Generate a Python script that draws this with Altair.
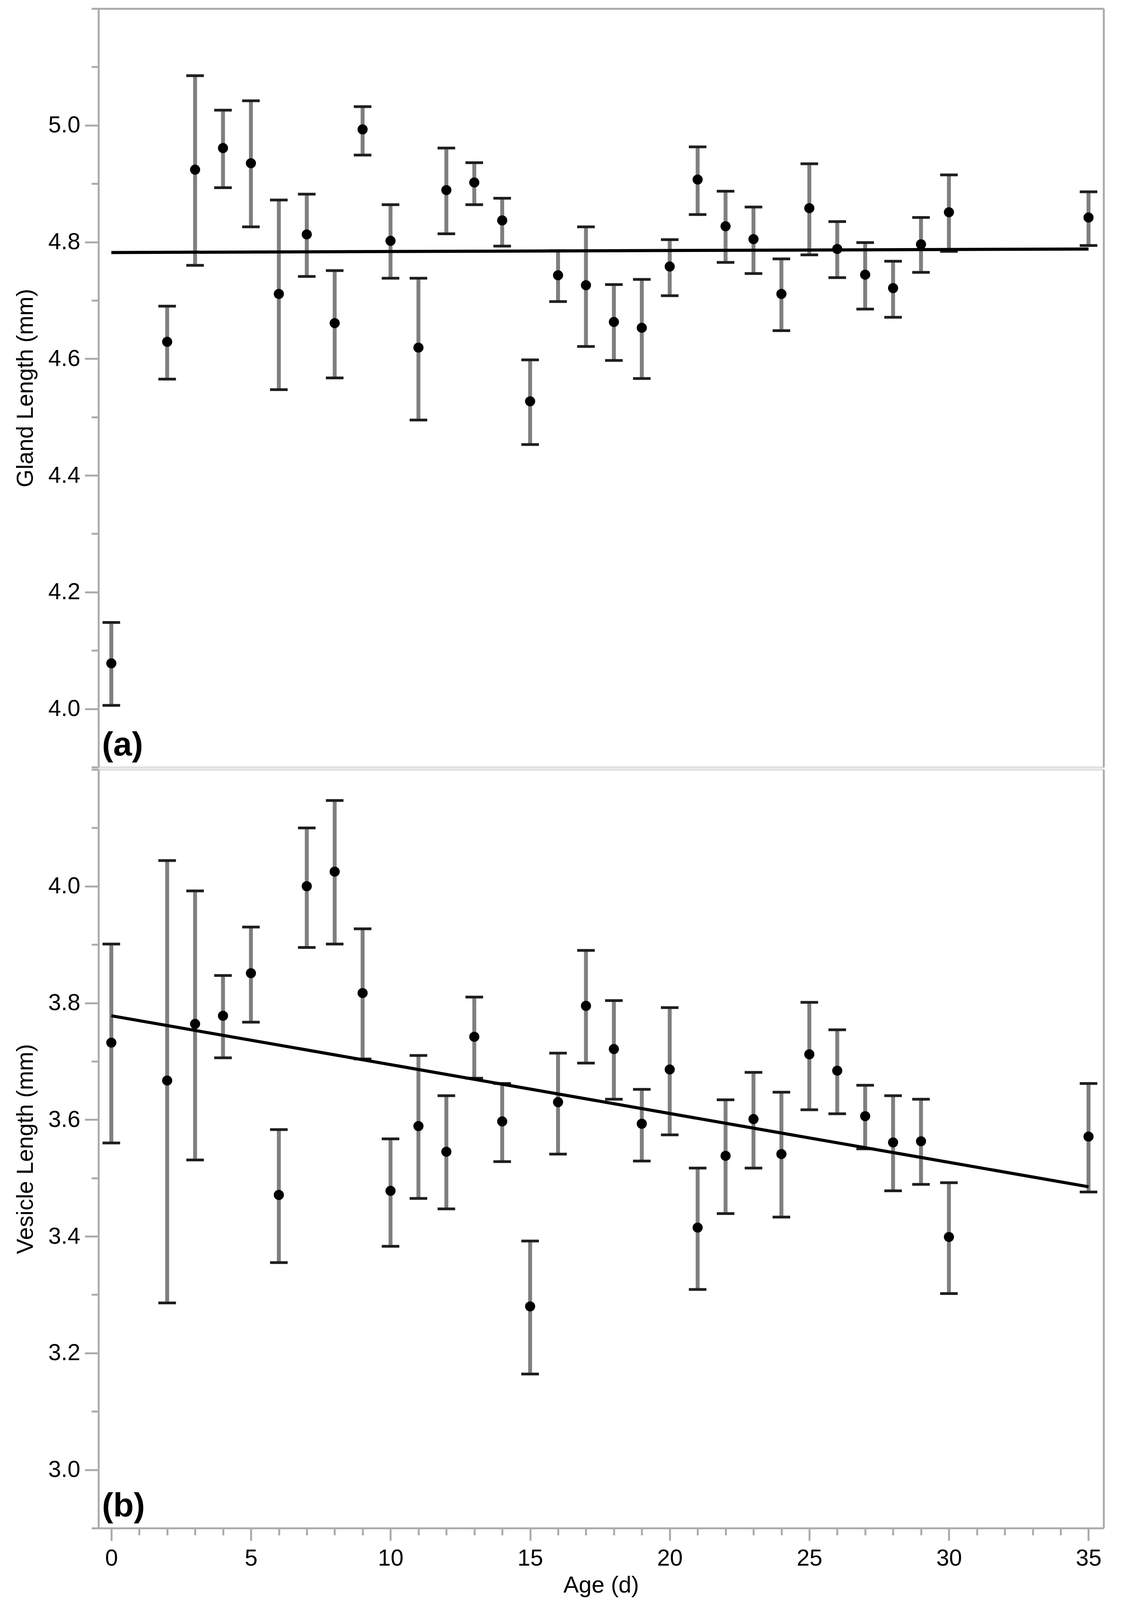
import altair as alt
import pandas as pd

FONT = "Liberation Sans"
GREY = "#acacac"
LIGHT = "#e0e0e0"

days = [0, 2, 3, 4, 5, 6, 7, 8, 9, 10, 11, 12, 13, 14, 15, 16, 17, 18, 19, 20,
        21, 22, 23, 24, 25, 26, 27, 28, 29, 30, 35]

gland_mean = [4.078, 4.629, 4.924, 4.961, 4.935, 4.711, 4.813, 4.661, 4.993, 4.802,
              4.619, 4.889, 4.902, 4.837, 4.527, 4.743, 4.726, 4.663, 4.653, 4.758,
              4.907, 4.827, 4.805, 4.711, 4.858, 4.788, 4.744, 4.721, 4.796, 4.851, 4.842]
gland_hi = [4.148, 4.690, 5.085, 5.026, 5.042, 4.872, 4.882, 4.751, 5.032, 4.864,
            4.738, 4.961, 4.936, 4.875, 4.598, 4.785, 4.826, 4.727, 4.736, 4.804,
            4.963, 4.887, 4.860, 4.771, 4.934, 4.835, 4.799, 4.767, 4.842, 4.915, 4.886]
gland_lo = [4.006, 4.565, 4.760, 4.893, 4.826, 4.547, 4.741, 4.567, 4.949, 4.738,
            4.495, 4.814, 4.864, 4.793, 4.453, 4.698, 4.621, 4.597, 4.566, 4.708,
            4.847, 4.765, 4.746, 4.648, 4.778, 4.739, 4.685, 4.671, 4.748, 4.784, 4.794]

ves_mean = [3.732, 3.667, 3.764, 3.778, 3.851, 3.471, 4.000, 4.025, 3.817, 3.478,
            3.589, 3.545, 3.742, 3.597, 3.280, 3.630, 3.795, 3.721, 3.593, 3.686,
            3.415, 3.538, 3.601, 3.541, 3.712, 3.684, 3.606, 3.561, 3.563, 3.399, 3.571]
ves_hi = [3.901, 4.044, 3.992, 3.847, 3.930, 3.583, 4.100, 4.147, 3.927, 3.567,
          3.710, 3.641, 3.810, 3.662, 3.392, 3.714, 3.890, 3.804, 3.652, 3.792,
          3.517, 3.634, 3.681, 3.647, 3.801, 3.754, 3.659, 3.641, 3.635, 3.492, 3.662]
ves_lo = [3.560, 3.286, 3.531, 3.706, 3.767, 3.355, 3.895, 3.901, 3.704, 3.383,
          3.465, 3.447, 3.671, 3.528, 3.164, 3.541, 3.697, 3.635, 3.529, 3.574,
          3.309, 3.439, 3.517, 3.433, 3.617, 3.610, 3.550, 3.478, 3.489, 3.302, 3.476]

fit_x = [0, 35]
gland_fit = [4.782, 4.788]
ves_fit = [3.778, 3.485]

x_major = [0, 5, 10, 15, 20, 25, 30, 35]
x_minor = list(range(0, 36))
gland_major = [4.0, 4.2, 4.4, 4.6, 4.8, 5.0]
gland_minor = [round(3.9 + 0.1 * i, 1) for i in range(14)]
ves_major = [3.0, 3.2, 3.4, 3.6, 3.8, 4.0]
ves_minor = [round(2.9 + 0.1 * i, 1) for i in range(14)]

W = 2572
H = 1942
FS = 59


def panel(mean, hi, lo, fit, ytitle, ydomain, ymaj, ymin, tag, is_bottom):
    df = pd.DataFrame({"age": days, "mean": mean, "hi": hi, "lo": lo})
    fdf = pd.DataFrame({"fx": fit_x, "fy": fit})
    tdf = pd.DataFrame({"tag": [tag]})
    xs = alt.Scale(domain=[-0.46, 35.54], nice=False, zero=False)
    ys = alt.Scale(domain=ydomain, nice=False, zero=False)

    y_major = alt.Axis(orient="left", values=ymaj, format=".1f", tickSize=35,
                       tickWidth=5, tickColor=GREY, domain=True, domainColor=GREY,
                       domainWidth=5, labelFontSize=FS, labelPadding=12,
                       labelColor="black", title=ytitle, titleFontSize=FS,
                       titleFontWeight="normal", titlePadding=27, titleColor="black",
                       grid=False)
    y_minor = alt.Axis(orient="left", values=ymin, tickSize=18, tickWidth=5,
                       tickColor=GREY, domain=False, labels=False, title=None,
                       grid=False)
    y_right = alt.Axis(orient="right", domain=True, domainColor=GREY, domainWidth=5,
                       ticks=False, labels=False, title=None, grid=False)

    if is_bottom:
        x_axes = [
            alt.Axis(orient="bottom", values=x_major, format="d", tickSize=32,
                     tickWidth=5, tickColor=GREY, domain=True, domainColor=GREY,
                     domainWidth=5, labelFontSize=FS, labelPadding=16,
                     labelColor="black", labelFlush=False, title="Age (d)",
                     titleFontSize=FS, titleFontWeight="normal", titlePadding=10,
                     titleColor="black", grid=False),
            alt.Axis(orient="bottom", values=x_minor, tickSize=18, tickWidth=5,
                     tickColor=GREY, domain=False, labels=False, title=None,
                     grid=False),
            alt.Axis(orient="top", domain=True, domainColor=LIGHT, domainWidth=5,
                     ticks=False, labels=False, title=None, grid=False),
        ]
    else:
        x_axes = [
            alt.Axis(orient="top", domain=True, domainColor=GREY, domainWidth=5,
                     ticks=False, labels=False, title=None, grid=False),
            alt.Axis(orient="bottom", domain=True, domainColor=LIGHT, domainWidth=5,
                     ticks=False, labels=False, title=None, grid=False),
            None,
        ]

    stems = alt.Chart(df).mark_rule(color="#7f7f7f", strokeWidth=10).encode(
        x=alt.X("age:Q", scale=xs, axis=x_axes[0]),
        y=alt.Y("lo:Q", scale=ys, axis=y_major),
        y2="hi:Q",
    )
    caps_hi = alt.Chart(df).mark_tick(orient="horizontal", size=45, thickness=7,
                                      color="#1e1e1e", opacity=1).encode(
        x=alt.X("age:Q", scale=xs, axis=x_axes[1]),
        y=alt.Y("hi:Q", scale=ys, axis=y_minor),
    )
    caps_lo = alt.Chart(df).mark_tick(orient="horizontal", size=45, thickness=7,
                                      color="#1e1e1e", opacity=1).encode(
        x=alt.X("age:Q", scale=xs, axis=x_axes[2]),
        y=alt.Y("lo:Q", scale=ys, axis=y_right),
    )
    line = alt.Chart(fdf).mark_line(color="black", strokeWidth=8).encode(
        x=alt.X("fx:Q", scale=xs, axis=None),
        y=alt.Y("fy:Q", scale=ys, axis=None),
    )
    points = alt.Chart(df).mark_circle(size=670, color="black", opacity=1).encode(
        x=alt.X("age:Q", scale=xs, axis=None),
        y=alt.Y("mean:Q", scale=ys, axis=None),
    )
    label = alt.Chart(tdf).mark_text(font=FONT, fontSize=86, fontWeight="bold",
                                     align="left", baseline="alphabetic",
                                     color="black").encode(
        x=alt.value(9),
        y=alt.value(H - 30),
        text="tag:N",
    )
    return alt.layer(stems, caps_hi, caps_lo, line, points, label).resolve_axis(
        x="independent", y="independent"
    ).properties(width=W, height=H)


top = panel(gland_mean, gland_hi, gland_lo, gland_fit, "Gland Length (mm)",
            [3.9, 5.2], gland_major, gland_minor, "(a)", False)
bottom = panel(ves_mean, ves_hi, ves_lo, ves_fit, "Vesicle Length (mm)",
               [2.9, 4.2], ves_major, ves_minor, "(b)", True)

chart = alt.vconcat(top, bottom, spacing=0).properties(
    padding={"left": 28, "top": 11, "right": 10, "bottom": 10},
    background="white",
).configure_view(stroke="transparent").configure_axis(
    labelFont=FONT, titleFont=FONT, grid=False
)

chart.save("out.html", embed_options={"renderer": "svg", "actions": False})
